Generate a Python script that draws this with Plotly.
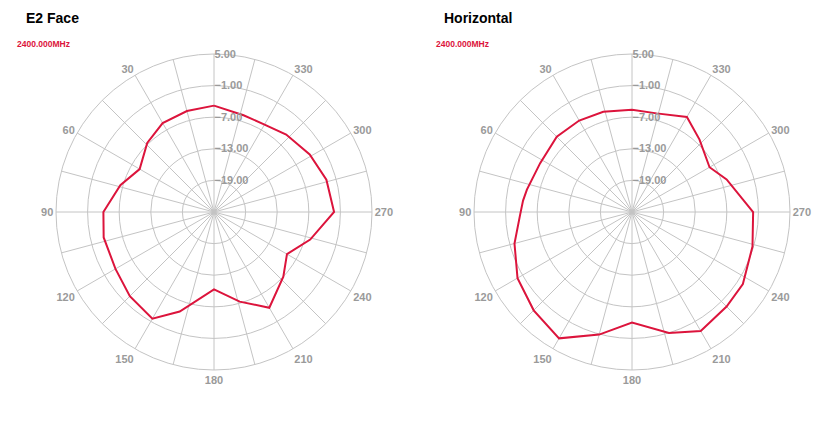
import plotly.graph_objects as go

# ---- data (angle in degrees, gain in dB) ----
e2_angles = [0, 15, 30, 44, 60, 74, 90, 103, 120, 135, 150, 161, 180, 196, 210, 227, 240, 254, 270, 286, 301, 317, 331, 343, 360]
e2_gain = [-4.8, -5.15, -5.5, -6.75, -8.7, -6.5, -4.0, -3.5, -3.4, -2.4, -1.6, -5.0, -10.3, -7.3, -4.0, -7.0, -9.0, -6.0, -2.2, -2.8, -3.8, -4.9, -5.85, -5.8, -4.8]

hz_angles = [0, 16, 30, 45, 62, 78, 84, 92, 105, 120, 135, 150, 165, 180, 197, 210, 225, 237, 254, 270, 289, 300, 317, 330, 346, 360]
hz_gain = [-5.6, -5.2, -4.95, -4.8, -5.25, -4.6, -4.2, -3.7, -1.9, 0.1, 1.4, 2.7, -0.9, -4.0, -1.0, 1.1, 0.4, 0.1, -1.2, -2.0, -6.0, -8.0, -6.2, -4.15, -5.7, -5.6]

titles = ["E2 Face", "Horizontal"]
freq_label = "2400.000MHz"
radial_ticks = [5, -1, -7, -13, -19]
angle_ticks = list(range(0, 360, 15))
angle_text = ["" if (a % 30 or a == 0) else str(a) for a in angle_ticks]

LINE = "#dc143c"
GRID = "#c4c4c4"
LABEL = "#9a9a9a"
FONT = "Liberation Sans, Arial, sans-serif"

# page body has an 8px margin; size the figure to fill the rest
OFF = 8
W, H = 833 - OFF, 421 - OFF


def px_x(x):
    return (x - OFF) / W


def px_y(y):
    return 1 - (y - OFF) / H


fig = go.Figure()
fig.add_trace(go.Scatterpolar(r=e2_gain, theta=e2_angles, mode="lines",
                              line=dict(color=LINE, width=2), subplot="polar", showlegend=False))
fig.add_trace(go.Scatterpolar(r=hz_gain, theta=hz_angles, mode="lines",
                              line=dict(color=LINE, width=2), subplot="polar2", showlegend=False))


def polar_layout(cx, cy, rad):
    return dict(
        domain=dict(x=[px_x(cx - rad), px_x(cx + rad)], y=[px_y(cy + rad), px_y(cy - rad)]),
        bgcolor="white",
        angularaxis=dict(direction="counterclockwise", rotation=90,
                         tickmode="array", tickvals=angle_ticks, ticktext=angle_text,
                         showgrid=True, gridcolor=GRID, gridwidth=1,
                         showline=True, linecolor=GRID, linewidth=1,
                         ticks="", tickfont=dict(family=FONT, size=11, color=LABEL, weight="bold")),
        radialaxis=dict(range=[-25, 5], tickmode="array", tickvals=radial_ticks,
                        tickformat=".2f", angle=90, tickangle=90, showline=False, ticks="",
                        showgrid=True, gridcolor=GRID, gridwidth=1,
                        tickfont=dict(family=FONT, size=11, color=LABEL, weight="bold")),
    )


ann = []
for title, tx, fx in [(titles[0], 24, 15), (titles[1], 442, 434)]:
    ann.append(dict(text=title, x=px_x(tx), y=px_y(18), xref="paper", yref="paper",
                    xanchor="left", yanchor="middle", showarrow=False,
                    font=dict(family=FONT, size=14, color="black", weight="bold")))
    ann.append(dict(text=freq_label, x=px_x(fx), y=px_y(43.5), xref="paper", yref="paper",
                    xanchor="left", yanchor="middle", showarrow=False,
                    font=dict(family=FONT, size=8.5, color=LINE, weight="bold")))

fig.update_layout(
    width=W, height=H,
    margin=dict(l=0, r=0, t=0, b=0),
    paper_bgcolor="white",
    plot_bgcolor="white",
    polar=polar_layout(214, 212, 158),
    polar2=polar_layout(632, 212, 158),
    annotations=ann,
)

fig.write_html("out.html")
